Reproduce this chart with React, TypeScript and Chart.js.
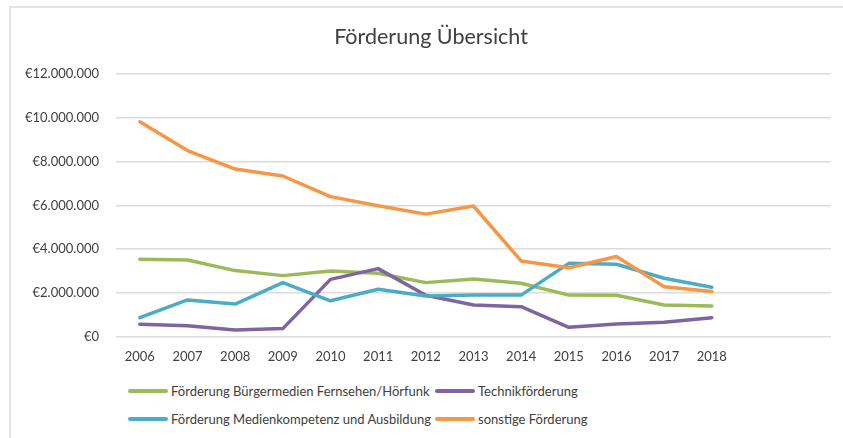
import React, { useEffect, useRef } from "react";
import { Chart, registerables } from "chart.js";

Chart.register(...registerables);

const title = "Förderung Übersicht";
const years = ["2006", "2007", "2008", "2009", "2010", "2011", "2012", "2013", "2014", "2015", "2016", "2017", "2018", "", ""];
const yTicks = [0, 2000000, 4000000, 6000000, 8000000, 10000000, 12000000];

const buergermedien = [3540000, 3500000, 3020000, 2790000, 3000000, 2900000, 2470000, 2640000, 2440000, 1900000, 1890000, 1450000, 1400000];
const technik = [570000, 500000, 310000, 370000, 2620000, 3110000, 1890000, 1450000, 1370000, 430000, 580000, 660000, 870000];
const medienkompetenz = [870000, 1680000, 1490000, 2470000, 1640000, 2170000, 1860000, 1900000, 1900000, 3350000, 3310000, 2670000, 2260000];
const sonstige = [9820000, 8500000, 7660000, 7340000, 6400000, 5980000, 5600000, 5970000, 3460000, 3150000, 3660000, 2280000, 2060000];

const seriesNames = [
  "Förderung Bürgermedien Fernsehen/Hörfunk",
  "Technikförderung",
  "Förderung Medienkompetenz und Ausbildung",
  "sonstige Förderung",
];
const seriesColors = ["#9BBB59", "#8064A2", "#4BACC6", "#F79646"];

const FONT = "Lato, 'Open Sans', sans-serif";
const TEXT = "#404040";

function euro(v: number): string {
  const s = Math.round(v).toString().replace(/\B(?=(\d{3})+(?!\d))/g, ".");
  return "€" + s;
}

function LegendItem({ name, color, left, top }: { name: string; color: string; left: number; top: number }) {
  return (
    <div style={{ position: "absolute", left, top: top - 10, height: 20, display: "flex", alignItems: "center", whiteSpace: "nowrap" }}>
      <div style={{ width: 40, height: 4, borderRadius: 2, background: color, marginRight: 3 }} />
      <span style={{ fontFamily: FONT, fontSize: 13, color: TEXT }}>{name}</span>
    </div>
  );
}

export default function App() {
  const ref = useRef<HTMLCanvasElement | null>(null);

  useEffect(() => {
    if (!ref.current) return;
    const data = [buergermedien, technik, medienkompetenz, sonstige];
    const chart = new Chart(ref.current, {
      type: "line",
      data: {
        labels: years,
        datasets: data.map((d, i) => ({
          label: seriesNames[i],
          data: d,
          borderColor: seriesColors[i],
          backgroundColor: seriesColors[i],
          borderWidth: 3.5,
          pointRadius: 0,
          tension: 0,
          borderJoinStyle: "round" as const,
          borderCapStyle: "round" as const,
          order: 4 - i,
        })),
      },
      options: {
        animation: false,
        responsive: false,
        maintainAspectRatio: false,
        layout: { padding: { top: 66, right: 12, left: 0, bottom: 0 } },
        plugins: {
          legend: { display: false },
          title: { display: false },
          tooltip: { enabled: false },
        },
        scales: {
          x: {
            offset: true,
            grid: { display: false, drawTicks: false },
            border: { display: false },
            ticks: {
              padding: 12.5,
              autoSkip: false,
              maxRotation: 0,
              color: TEXT,
              font: { family: FONT, size: 13 },
            },
            afterFit: (scale: any) => {
              scale.height = 28.3;
            },
          },
          y: {
            min: 0,
            max: 12000000,
            afterBuildTicks: (scale: any) => {
              scale.ticks = yTicks.map((v) => ({ value: v }));
            },
            grid: { color: "#dcdcdc", lineWidth: 1.6, drawTicks: false },
            border: { display: false },
            ticks: {
              padding: 17,
              color: TEXT,
              font: { family: FONT, size: 13 },
              callback: (v: any) => euro(Number(v)),
            },
            afterFit: (scale: any) => {
              scale.width = 105;
            },
          },
        },
      },
    });
    return () => chart.destroy();
  }, []);

  return (
    <div
      style={{
        position: "absolute",
        left: 9,
        top: 6,
        width: 834,
        height: 432,
        boxSizing: "border-box",
        borderTop: "2px solid #e3e3e3",
        borderLeft: "2px solid #e3e3e3",
        overflow: "hidden",
        background: "#fff",
      }}
    >
      <canvas ref={ref} width={832} height={357} style={{ position: "absolute", left: 0, top: 0, width: 832, height: 357 }} />
      <div
        style={{
          position: "absolute",
          left: 0,
          width: 840,
          top: 14,
          height: 28,
          lineHeight: "28px",
          textAlign: "center",
          fontFamily: FONT,
          fontSize: 21.5,
          color: TEXT,
        }}
      >
        {title}
      </div>
      <LegendItem name={seriesNames[0]} color={seriesColors[0]} left={117} top={383} />
      <LegendItem name={seriesNames[1]} color={seriesColors[1]} left={424} top={383} />
      <LegendItem name={seriesNames[2]} color={seriesColors[2]} left={117} top={411} />
      <LegendItem name={seriesNames[3]} color={seriesColors[3]} left={424} top={411} />
    </div>
  );
}
